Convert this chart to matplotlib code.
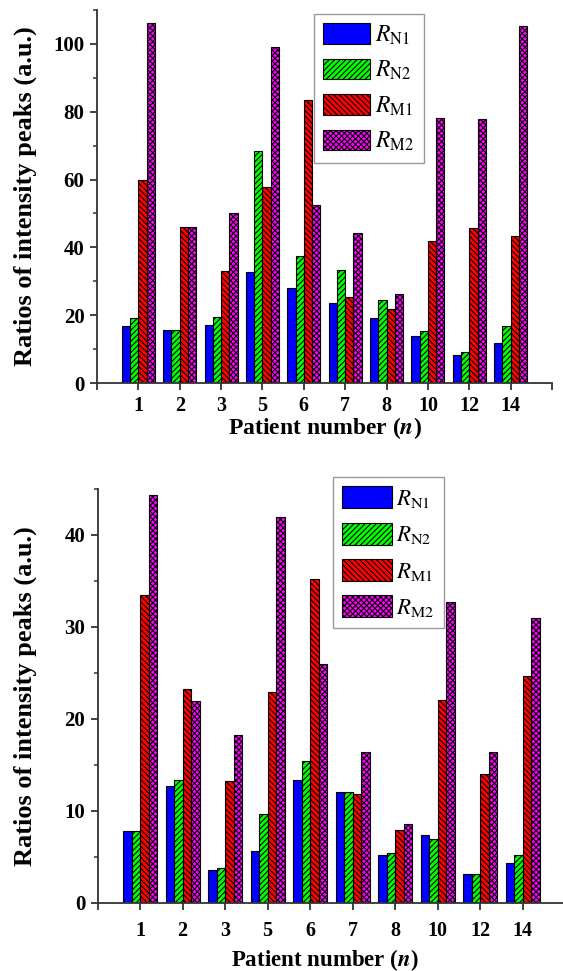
import matplotlib
matplotlib.use("Agg")
import matplotlib.pyplot as plt
import numpy as np
from matplotlib.ticker import MultipleLocator

plt.rcParams['font.family'] = ['Liberation Serif', 'DejaVu Serif']
plt.rcParams['mathtext.fontset'] = 'stix'
plt.rcParams['hatch.linewidth'] = 0.8

# Data
patients = ['1', '2', '3', '5', '6', '7', '8', '10', '12', '14']

top_n1 = [16.9, 15.6, 17.1, 32.6, 28.0, 23.6, 19.1, 13.8, 8.4, 11.9]
top_n2 = [19.3, 15.6, 19.6, 68.4, 37.6, 33.2, 24.5, 15.3, 9.0, 16.8]
top_m1 = [59.9, 46.1, 33.1, 57.7, 83.4, 25.4, 21.8, 41.9, 45.8, 43.4]
top_m2 = [106.1, 46.1, 50.2, 99.0, 52.4, 44.3, 26.3, 78.2, 78.0, 105.4]

bot_n1 = [7.8, 12.75, 3.55, 5.6, 13.4, 12.1, 5.2, 7.4, 3.15, 4.4]
bot_n2 = [7.8, 13.4, 3.8, 9.7, 15.4, 12.1, 5.4, 7.0, 3.15, 5.2]
bot_m1 = [33.5, 23.3, 13.3, 22.9, 35.2, 11.9, 7.9, 22.1, 14.05, 24.7]
bot_m2 = [44.3, 22.0, 18.3, 42.0, 26.0, 16.4, 8.6, 32.7, 16.4, 31.0]

labels = [r'$R_{\mathrm{N1}}$', r'$R_{\mathrm{N2}}$', r'$R_{\mathrm{M1}}$', r'$R_{\mathrm{M2}}$']
colors = ['#0000ff', '#00ff00', '#ff0000', '#ff00ff']
hatches = [None, '//////', '\\\\\\\\\\\\', 'xxxxxx']

fig = plt.figure(figsize=(5.63, 9.71), dpi=100)
ax1 = fig.add_axes([97 / 563, 1 - 383 / 971, 455 / 563, 373 / 971])
ax2 = fig.add_axes([97.7 / 563, 1 - 903 / 971, 467.3 / 563, 414 / 971])


def draw_panel(ax, series, ymax, major, legend_box, fs, hl, hh, ls, pad):
    x = np.arange(1, len(patients) + 1)
    width = 0.2
    for i, vals in enumerate(series):
        ax.bar(x + (i - 1.5) * width, vals, width, color=colors[i],
               edgecolor='black', linewidth=0.8, hatch=hatches[i],
               label=labels[i])
    ax.set_xlim(0, 11)
    ax.set_ylim(0, ymax)
    ax.yaxis.set_major_locator(MultipleLocator(major))
    ax.yaxis.set_minor_locator(MultipleLocator(major / 2))
    ax.set_xticks(x)
    ax.set_xticklabels(patients)
    ax.spines['top'].set_visible(False)
    ax.spines['right'].set_visible(False)
    for s in ['left', 'bottom']:
        ax.spines[s].set_linewidth(1.3)
        ax.spines[s].set_color('#333333')
    ax.tick_params(axis='both', which='major', direction='out', length=5,
                   width=1.3, color='#333333')
    ax.tick_params(axis='y', which='minor', direction='out', length=3,
                   width=1.1, color='#333333')
    ax.tick_params(axis='x', pad=pad, labelsize=14.5)
    ax.tick_params(axis='y', pad=4, labelsize=15)
    for lab in ax.get_xticklabels() + ax.get_yticklabels():
        lab.set_fontweight('bold')
    ax.set_ylabel('Ratios of intensity peaks (a.u.)', fontsize=19,
                  fontweight='bold')
    ax.set_xlabel(r'Patient number ($\mathbfit{n}$)', fontsize=17,
                  fontweight='bold')
    leg = ax.legend(loc='upper left', bbox_to_anchor=legend_box,
                    prop={'size': fs}, frameon=True,
                    fancybox=False, edgecolor='#808080', handlelength=hl,
                    handleheight=hh, labelspacing=ls, borderpad=0.4,
                    handletextpad=0.2, borderaxespad=0)
    leg.get_frame().set_linewidth(1.0)


draw_panel(ax1, [top_n1, top_n2, top_m1, top_m2], 110, 20,
           ((313.5 - 97) / 455, (383 - 14) / 373), 17, 2.0, 0.95, 0.5, 4.5)
ax1.set_xticks([0, 11], minor=True)
ax1.tick_params(axis='x', which='minor', direction='out', length=5, width=1.3,
                color='#333333')
ax1.xaxis.set_label_coords(0.5, (383 - 415) / 373)
ax1.yaxis.set_label_coords((37 - 97) / 455, 0.5)

draw_panel(ax2, [bot_n1, bot_n2, bot_m1, bot_m2], 45, 10,
           ((333.2 - 97.7) / 467.3, (903 - 477) / 414), 16.5, 2.15, 1.1, 0.55, 8)
ax2.set_xticks([0], minor=True)
ax2.tick_params(axis='x', which='minor', direction='out', length=5, width=1.3,
                color='#333333')
ax2.xaxis.get_label().set_fontsize(16.5)
ax2.xaxis.set_label_coords((325 - 97.7) / 467.3, (903 - 947) / 414)
ax2.yaxis.set_label_coords((37 - 97.7) / 467.3, 0.5)

fig.savefig('out.png', dpi=100)
